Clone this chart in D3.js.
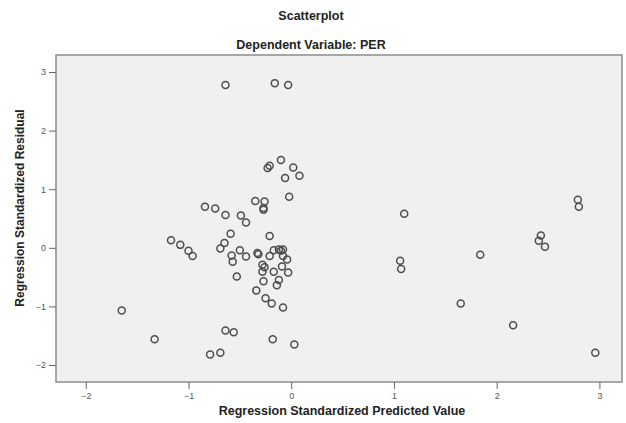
<!DOCTYPE html>
<html>
<head>
<meta charset="utf-8">
<script src="https://cdn.jsdelivr.net/npm/d3@7"></script>
<style>
  body { margin: 0; background: #fff; }
  svg { display: block; font-family: "Liberation Sans", Arial, sans-serif; }
</style>
</head>
<body>
<script>
// predicted (x) and residual (y)
const predicted = [
  -0.64, -0.16, -0.03, -0.10, -0.23, -0.21, 0.02, -0.06, 0.08, -0.02,
  -0.35, -0.26, -0.27, -0.27, -0.84, -0.74, -0.64, -0.49, -0.44, -0.59,
  -0.21, -1.17, -1.08, -1.00, -0.96, -0.65, -0.69, -0.50, -0.58, -0.44,
  -0.57, -0.33, -0.32, -0.17, -0.12, -0.10, -0.08, -0.21, -0.08, -0.04,
  -0.28, -0.26, -0.28, -0.17, -0.09, -0.03, -0.53, -0.27, -0.12, -0.14,
  -0.34, -0.25, -0.19, -0.08, -1.65, -1.33, -0.64, -0.56, -0.18, 0.03,
  -0.79, -0.69, 1.10, 2.79, 2.80, 1.06, 1.07, 1.84, 1.65, 2.16,
  2.43, 2.41, 2.47, 2.96
];
const residual = [
  2.78, 2.81, 2.78, 1.50, 1.36, 1.40, 1.37, 1.19, 1.23, 0.87,
  0.80, 0.79, 0.65, 0.68, 0.70, 0.67, 0.56, 0.55, 0.43, 0.24,
  0.20, 0.13, 0.05, -0.05, -0.14, 0.08, -0.01, -0.04, -0.13, -0.15,
  -0.24, -0.09, -0.11, -0.04, -0.03, -0.05, -0.03, -0.14, -0.14, -0.20,
  -0.29, -0.33, -0.41, -0.41, -0.32, -0.42, -0.49, -0.57, -0.55, -0.64,
  -0.73, -0.86, -0.95, -1.02, -1.07, -1.56, -1.41, -1.44, -1.56, -1.65,
  -1.82, -1.79, 0.58, 0.82, 0.70, -0.22, -0.36, -0.12, -0.95, -1.32,
  0.21, 0.12, 0.02, -1.79
];
const xTicks = [-2, -1, 0, 1, 2, 3];
const yTicks = [-2, -1, 0, 1, 2, 3];

const width = 626, height = 423;
const margin = { top: 55, right: 4, bottom: 41, left: 56 };

const svg = d3.select("body").append("svg")
  .attr("width", width)
  .attr("height", height);

const x = d3.scaleLinear().domain([-2.29, 3.22])
  .range([margin.left, width - margin.right]);
const y = d3.scaleLinear().domain([-2.29, 3.29])
  .range([height - margin.bottom, margin.top]);

// plot area
svg.append("rect")
  .attr("x", margin.left)
  .attr("y", margin.top)
  .attr("width", width - margin.left - margin.right)
  .attr("height", height - margin.top - margin.bottom)
  .attr("fill", "#f0f0f0")
  .attr("stroke", "#8c8c8c")
  .attr("stroke-width", 1.5);

// axes
const xAxis = svg.append("g")
  .attr("transform", `translate(0,${height - margin.bottom})`)
  .call(d3.axisBottom(x).tickValues(xTicks).tickSize(7).tickPadding(4).tickFormat(d3.format("d")));
const yAxis = svg.append("g")
  .attr("transform", `translate(${margin.left},0)`)
  .call(d3.axisLeft(y).tickValues(yTicks).tickSize(7).tickPadding(3).tickFormat(d3.format("d")));

[xAxis, yAxis].forEach(g => {
  g.select(".domain").remove();
  g.selectAll(".tick line").attr("stroke", "#666");
  g.selectAll(".tick text").attr("fill", "#555").style("font-size", "9px");
});

// points
svg.append("g").selectAll("circle")
  .data(predicted.map((p, i) => [p, residual[i]]))
  .join("circle")
  .attr("cx", d => x(d[0]))
  .attr("cy", d => y(d[1]))
  .attr("r", 3.5)
  .attr("fill", "none")
  .attr("stroke", "#4d4d4d")
  .attr("stroke-width", 1.5);

// titles
svg.append("text")
  .attr("x", 311).attr("y", 20)
  .attr("text-anchor", "middle")
  .style("font-size", "12.5px").style("font-weight", "bold")
  .attr("fill", "#222")
  .text("Scatterplot");
svg.append("text")
  .attr("x", 311).attr("y", 49)
  .attr("text-anchor", "middle")
  .style("font-size", "12.5px").style("font-weight", "bold")
  .attr("fill", "#222")
  .text("Dependent Variable: PER");

svg.append("text")
  .attr("x", 342).attr("y", 415)
  .attr("text-anchor", "middle")
  .style("font-size", "12.5px").style("font-weight", "bold")
  .attr("fill", "#222")
  .text("Regression Standardized Predicted Value");

svg.append("text")
  .attr("transform", "translate(24,208) rotate(-90)")
  .attr("text-anchor", "middle")
  .style("font-size", "12px").style("font-weight", "bold")
  .attr("fill", "#222")
  .text("Regression Standardized Residual");
</script>
</body>
</html>
